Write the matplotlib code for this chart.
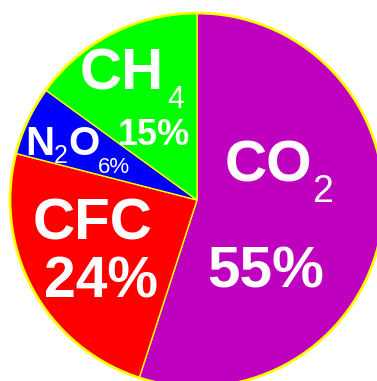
import matplotlib
matplotlib.use("Agg")
import matplotlib.pyplot as plt
from matplotlib.patches import Circle

gases = ["CO2", "CFC", "N2O", "CH4"]
shares = [55, 24, 6, 15]
colors = ["#bf00bf", "#ff0000", "#0000ff", "#00ff00"]

fig = plt.figure(figsize=(3.77, 3.81), dpi=100)
ax = fig.add_axes([0, 0, 1, 1])

# y is flipped, so counterclock in data space is clockwise on screen
ax.pie(shares, colors=colors, startangle=-90, counterclock=True,
       center=(197, 200), radius=187, frame=True,
       wedgeprops=dict(edgecolor="#ffff00", linewidth=1.0))
ax.add_patch(Circle((197, 200), 187, fill=False, edgecolor="#ffff00", linewidth=2))
ax.set_xlim(0, 377)
ax.set_ylim(381, 0)  # pixel coords, y down
ax.axis("off")

fam = ["Liberation Sans", "DejaVu Sans"]
big = dict(color="white", fontweight="bold", family=fam, ha="left", va="baseline")
thin = dict(color="white", family=fam, ha="left", va="baseline")

# CH4
ax.text(80, 90, "CH", fontsize=42, **big)
ax.text(167, 108, "4", fontsize=22, **thin)
ax.text(118, 145, f"{shares[3]}%", fontsize=26, **big)
# N2O
ax.text(25, 155, "N", fontsize=29, **big)
ax.text(54, 163, "2", fontsize=18, **thin)
ax.text(68, 155, "O", fontsize=29, **big)
ax.text(98, 173, f"{shares[2]}%", fontsize=16, **thin)
# CO2
ax.text(225, 182, "CO", fontsize=42, **big)
ax.text(312, 202, "2", fontsize=27, **thin)
ax.text(207, 287, f"{shares[0]}%", fontsize=42, **big)
# CFC
ax.text(33, 240, "CFC", fontsize=42, **big)
ax.text(44, 298, f"{shares[1]}%", fontsize=41, **big)

fig.savefig("out.png", dpi=100)
